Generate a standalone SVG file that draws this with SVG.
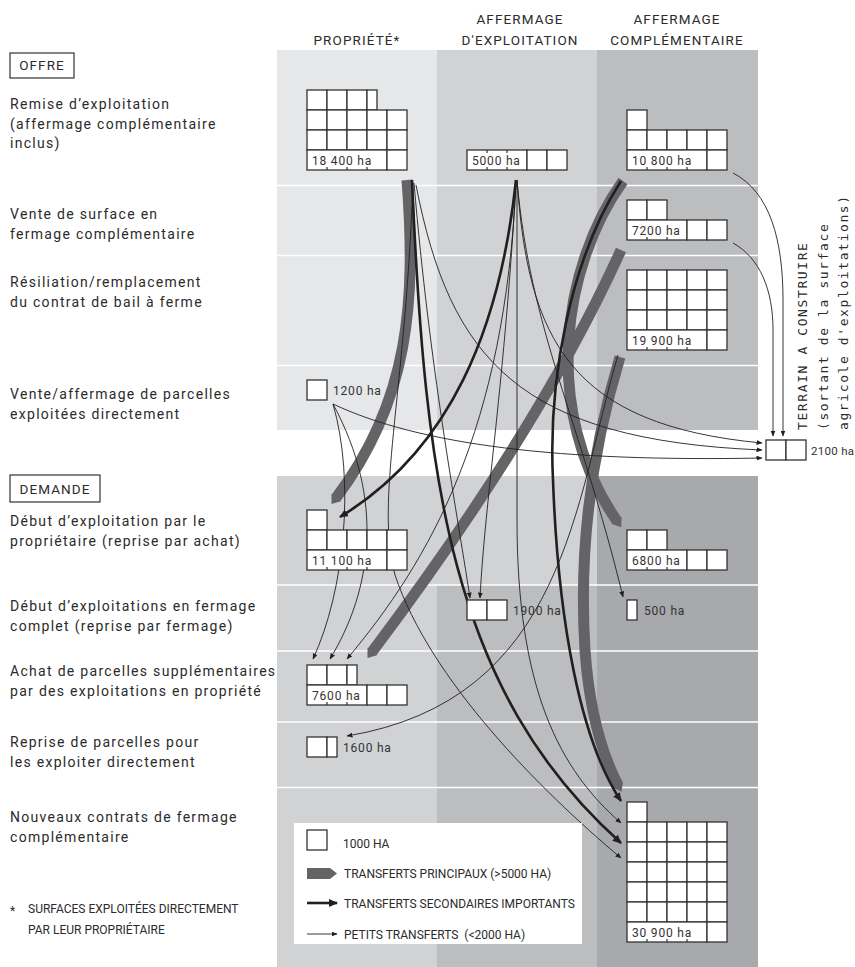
<svg xmlns="http://www.w3.org/2000/svg" width="855" height="967" viewBox="0 0 855 967">
<defs>
<style>
.lab{font-family:Roboto,"Liberation Sans",sans-serif;font-size:14px;letter-spacing:1.3px;fill:#2b2b2b}
.hd{font-family:Roboto,"Liberation Sans",sans-serif;font-size:13.5px;letter-spacing:1.1px;fill:#2b2b2b;text-anchor:middle}
.bx{fill:none;stroke:#333;stroke-width:1.2}
.c{fill:#fff;stroke:#333;stroke-width:1.3}
.t{stroke:#333;stroke-width:1.2}
.num{font-family:Roboto,"Liberation Sans",sans-serif;font-size:12px;letter-spacing:0.8px;fill:#333}
.leg{font-family:Roboto,"Liberation Sans",sans-serif;font-size:12px;fill:#2b2b2b}
.vt{font-family:"DejaVu Sans Mono",monospace;font-size:13px;letter-spacing:1.6px;fill:#2b2b2b}
.sep{stroke:#fff;stroke-width:1.6}
.g{fill:none;stroke:#646466;stroke-width:11;marker-end:url(#mg)}
.k{fill:none;stroke:#231f20;stroke-width:2.6;marker-end:url(#mk)}
.th{fill:none;stroke:#231f20;stroke-width:0.9;marker-end:url(#mt)}
</style>
<rect id="cell" width="20" height="20" fill="#fff" stroke="#333" stroke-width="1.3"/>
<marker id="mg" markerUnits="userSpaceOnUse" markerWidth="8" markerHeight="12" viewBox="0 0 8 12" refX="0.5" refY="6" orient="auto"><path d="M0,0 L8,6 L0,12 z" fill="#646466"/></marker>
<marker id="mk" markerUnits="userSpaceOnUse" markerWidth="9" markerHeight="8" viewBox="0 0 9 8" refX="8" refY="4" orient="auto"><path d="M0,0 L9,4 L0,8 z" fill="#231f20"/></marker>
<marker id="mt" markerUnits="userSpaceOnUse" markerWidth="6" markerHeight="5" viewBox="0 0 6 5" refX="5.5" refY="2.5" orient="auto"><path d="M0,0 L6,2.5 L0,5 z" fill="#231f20"/></marker>
</defs>
<rect width="855" height="967" fill="#fff"/>
<g id="background">
<rect x="277" y="50" width="160" height="380" fill="#e6e7e8"/>
<rect x="437" y="50" width="160" height="380" fill="#d1d2d4"/>
<rect x="597" y="50" width="161" height="380" fill="#bcbdbf"/>
<rect x="277" y="476" width="160" height="491" fill="#d1d2d4"/>
<rect x="437" y="476" width="160" height="109" fill="#d1d2d4"/>
<rect x="437" y="585" width="160" height="382" fill="#bcbdbf"/>
<rect x="597" y="476" width="161" height="491" fill="#a7a9ac"/>
<path class="sep" d="M277,185.5H758M277,255.5H758M277,365.5H758M277,585H758M277,651H758M277,722H758M277,787.5H758"/>
</g>
<g id="headers">
<text class="hd" x="357" y="45">PROPRIÉTÉ*</text>
<text class="hd" x="520" y="24">AFFERMAGE</text>
<text class="hd" x="520" y="45">D'EXPLOITATION</text>
<text class="hd" x="677" y="24">AFFERMAGE</text>
<text class="hd" x="677" y="45">COMPLÉMENTAIRE</text>
</g>
<g id="labels">
<rect class="bx" x="10" y="53" width="64" height="25"/>
<text class="hd" x="42" y="70">OFFRE</text>
<text class="lab" x="10" y="109">Remise d’exploitation</text>
<text class="lab" x="10" y="129">(affermage complémentaire</text>
<text class="lab" x="10" y="148">inclus)</text>
<text class="lab" x="10" y="219">Vente de surface en</text>
<text class="lab" x="10" y="239">fermage complémentaire</text>
<text class="lab" x="10" y="287">Résiliation/remplacement</text>
<text class="lab" x="10" y="307">du contrat de bail à ferme</text>
<text class="lab" x="10" y="399">Vente/affermage de parcelles</text>
<text class="lab" x="10" y="419">exploitées directement</text>
<rect class="bx" x="10" y="475" width="90" height="27"/>
<text class="hd" x="55" y="494">DEMANDE</text>
<text class="lab" x="10" y="526">Début d’exploitation par le</text>
<text class="lab" x="10" y="546">propriétaire (reprise par achat)</text>
<text class="lab" x="10" y="611">Début d’exploitations en fermage</text>
<text class="lab" x="10" y="631">complet (reprise par fermage)</text>
<text class="lab" x="10" y="676">Achat de parcelles supplémentaires</text>
<text class="lab" x="10" y="696">par des exploitations en propriété</text>
<text class="lab" x="10" y="747">Reprise de parcelles pour</text>
<text class="lab" x="10" y="767">les exploiter directement</text>
<text class="lab" x="10" y="822">Nouveaux contrats de fermage</text>
<text class="lab" x="10" y="842">complémentaire</text>
<text class="leg" x="10" y="915">*</text>
<text class="leg" x="28" y="913">SURFACES EXPLOITÉES DIRECTEMENT</text>
<text class="leg" x="28" y="934">PAR LEUR PROPRIÉTAIRE</text>
</g>
<g id="connectors">
<path class="g" d="M407,180 C416,300 410,400 336,498"/>
<path class="g" d="M621,250 Q541,427 372,652"/>
<path class="g" d="M623,181 C563,265 540,410 617,521"/>
<path class="g" d="M620,357 C595,440 578,540 585,650 C590,720 605,760 618,785"/>
<path class="k" d="M516,180 C500,330 450,450 340,517"/>
<path class="k" d="M412,180 C425,480 450,690 621,843"/>
<path class="k" d="M621,181 C570,260 548,380 553,480 C558,620 580,740 621,801"/>
<path class="th" d="M733,173 C770,192 783,240 783,300 L783,436"/>
<path class="th" d="M733,243 C760,258 773,290 773,330 L773,436"/>
<path class="th" d="M517,180 C528,340 570,425 762,443"/>
<path class="th" d="M416,185 C450,360 520,440 762,450"/>
<path class="th" d="M333,404 C420,445 560,462 762,458"/>
<path class="th" d="M333,404 C355,480 345,590 313,659"/>
<path class="th" d="M333,404 C385,500 372,590 330,659"/>
<path class="th" d="M516,182 C505,430 430,560 347,659"/>
<path class="th" d="M414,183 C430,370 455,500 470,598"/>
<path class="th" d="M516,182 C505,380 485,500 480,598"/>
<path class="th" d="M517,180 L517,520 C517,690 560,770 621,823"/>
<path class="th" d="M517,180 C530,330 580,420 623,597"/>
<path class="th" d="M413,183 C405,400 375,500 395,575 C430,680 540,790 621,858"/>
<path class="th" d="M618,355 C575,500 565,700 347,736"/>
</g>
<g id="n18400">
<use href="#cell" x="307" y="90"/><use href="#cell" x="327" y="90"/><use href="#cell" x="347" y="90"/><rect class="c" x="367" y="90" width="10" height="20"/>
<use href="#cell" x="307" y="110"/><use href="#cell" x="327" y="110"/><use href="#cell" x="347" y="110"/><use href="#cell" x="367" y="110"/><use href="#cell" x="387" y="110"/>
<use href="#cell" x="307" y="130"/><use href="#cell" x="327" y="130"/><use href="#cell" x="347" y="130"/><use href="#cell" x="367" y="130"/><use href="#cell" x="387" y="130"/>
<rect class="c" x="307" y="150" width="80" height="20"/><use href="#cell" x="387" y="150"/>
<path class="t" d="M327,167V170M347,167V170M367,167V170"/>
<text class="num" x="312" y="165">18 400 ha</text>
</g>
<g id="n5000">
<rect class="c" x="467" y="150" width="60" height="20"/><use href="#cell" x="527" y="150"/><use href="#cell" x="547" y="150"/>
<path class="t" d="M487,150V153M507,150V153M487,167V170M507,167V170"/>
<text class="num" x="472" y="165">5000 ha</text>
</g>
<g id="n10800">
<use href="#cell" x="627" y="110"/>
<use href="#cell" x="627" y="130"/><use href="#cell" x="647" y="130"/><use href="#cell" x="667" y="130"/><use href="#cell" x="687" y="130"/><use href="#cell" x="707" y="130"/>
<rect class="c" x="627" y="150" width="80" height="20"/><use href="#cell" x="707" y="150"/>
<path class="t" d="M647,167V170M667,167V170M687,167V170"/>
<text class="num" x="632" y="165">10 800 ha</text>
</g>
<g id="n7200">
<use href="#cell" x="627" y="200"/><use href="#cell" x="647" y="200"/>
<rect class="c" x="627" y="220" width="60" height="20"/><use href="#cell" x="687" y="220"/><use href="#cell" x="707" y="220"/>
<path class="t" d="M647,237V240M667,237V240"/>
<text class="num" x="632" y="235">7200 ha</text>
</g>
<g id="n19900">
<use href="#cell" x="627" y="270"/><use href="#cell" x="647" y="270"/><use href="#cell" x="667" y="270"/><use href="#cell" x="687" y="270"/><use href="#cell" x="707" y="270"/>
<use href="#cell" x="627" y="290"/><use href="#cell" x="647" y="290"/><use href="#cell" x="667" y="290"/><use href="#cell" x="687" y="290"/><use href="#cell" x="707" y="290"/>
<use href="#cell" x="627" y="310"/><use href="#cell" x="647" y="310"/><use href="#cell" x="667" y="310"/><use href="#cell" x="687" y="310"/><use href="#cell" x="707" y="310"/>
<rect class="c" x="627" y="330" width="80" height="20"/><use href="#cell" x="707" y="330"/>
<path class="t" d="M647,347V350M667,347V350M687,347V350"/>
<text class="num" x="632" y="345">19 900 ha</text>
</g>
<g id="n1200">
<use href="#cell" x="307" y="380"/>
<text class="num" x="333" y="395">1200 ha</text>
</g>
<g id="n2100">
<use href="#cell" x="766" y="440"/><use href="#cell" x="786" y="440"/>
<text class="num" x="811" y="455" style="font-size:11.5px;letter-spacing:0.3px">2100 ha</text>
<text class="vt" transform="translate(807,430) rotate(-90)">TERRAIN A CONSTRUIRE</text>
<text class="vt" transform="translate(828,430) rotate(-90)">(sortant de la surface</text>
<text class="vt" transform="translate(848,430) rotate(-90)">agricole d'exploitations)</text>
</g>
<g id="n11100">
<use href="#cell" x="307" y="510"/>
<use href="#cell" x="307" y="530"/><use href="#cell" x="327" y="530"/><use href="#cell" x="347" y="530"/><use href="#cell" x="367" y="530"/><use href="#cell" x="387" y="530"/>
<rect class="c" x="307" y="550" width="80" height="20"/><use href="#cell" x="387" y="550"/>
<path class="t" d="M327,567V570M347,567V570M367,567V570"/>
<text class="num" x="312" y="565">11 100 ha</text>
</g>
<g id="n6800">
<use href="#cell" x="627" y="530"/><use href="#cell" x="647" y="530"/>
<rect class="c" x="627" y="550" width="60" height="20"/><use href="#cell" x="687" y="550"/><use href="#cell" x="707" y="550"/>
<path class="t" d="M647,567V570M667,567V570"/>
<text class="num" x="632" y="565">6800 ha</text>
</g>
<g id="n1900">
<use href="#cell" x="467" y="600"/><use href="#cell" x="487" y="600"/>
<text class="num" x="513" y="615">1900 ha</text>
</g>
<g id="n500">
<rect class="c" x="627" y="600" width="10" height="20"/>
<text class="num" x="644" y="615">500 ha</text>
</g>
<g id="n7600">
<use href="#cell" x="307" y="665"/><use href="#cell" x="327" y="665"/><rect class="c" x="347" y="665" width="10" height="20"/>
<rect class="c" x="307" y="685" width="60" height="20"/><use href="#cell" x="367" y="685"/><use href="#cell" x="387" y="685"/>
<path class="t" d="M327,702V705M347,702V705"/>
<text class="num" x="312" y="700">7600 ha</text>
</g>
<g id="n1600">
<use href="#cell" x="307" y="737"/><rect class="c" x="327" y="737" width="10" height="20"/>
<text class="num" x="343" y="752">1600 ha</text>
</g>
<g id="legend">
<rect x="294" y="823" width="288" height="121" fill="#fff"/>
<use href="#cell" x="307" y="830"/>
<text class="leg" x="343" y="848">1000 HA</text>
<path d="M307,868H330L337,873.5L330,879H307Z" fill="#646466"/>
<text class="leg" x="344" y="878">TRANSFERTS PRINCIPAUX (&gt;5000 HA)</text>
<path class="k" d="M307,903H337"/>
<text class="leg" x="344" y="908">TRANSFERTS SECONDAIRES IMPORTANTS</text>
<path class="th" d="M307,934H337"/>
<text class="leg" x="344" y="939" xml:space="preserve">PETITS TRANSFERTS  (&lt;2000 HA)</text>
</g>
<g id="n30900">
<use href="#cell" x="627" y="802"/>
<use href="#cell" x="627" y="822"/><use href="#cell" x="647" y="822"/><use href="#cell" x="667" y="822"/><use href="#cell" x="687" y="822"/><use href="#cell" x="707" y="822"/>
<use href="#cell" x="627" y="842"/><use href="#cell" x="647" y="842"/><use href="#cell" x="667" y="842"/><use href="#cell" x="687" y="842"/><use href="#cell" x="707" y="842"/>
<use href="#cell" x="627" y="862"/><use href="#cell" x="647" y="862"/><use href="#cell" x="667" y="862"/><use href="#cell" x="687" y="862"/><use href="#cell" x="707" y="862"/>
<use href="#cell" x="627" y="882"/><use href="#cell" x="647" y="882"/><use href="#cell" x="667" y="882"/><use href="#cell" x="687" y="882"/><use href="#cell" x="707" y="882"/>
<use href="#cell" x="627" y="902"/><use href="#cell" x="647" y="902"/><use href="#cell" x="667" y="902"/><use href="#cell" x="687" y="902"/><use href="#cell" x="707" y="902"/>
<rect class="c" x="627" y="922" width="80" height="20"/><use href="#cell" x="707" y="922"/>
<path class="t" d="M647,939V942M667,939V942M687,939V942"/>
<text class="num" x="632" y="937">30 900 ha</text>
</g>
</svg>
